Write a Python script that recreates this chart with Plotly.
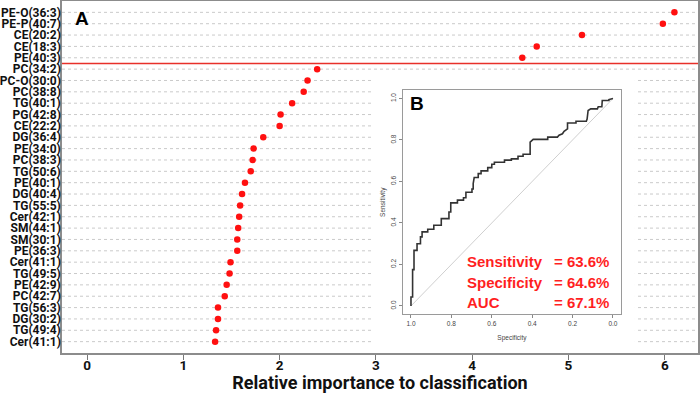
import plotly.graph_objects as go

# ---------------- data ----------------
labels = ["PE-O(36:3)", "PE-P(40:7)", "CE(20:2)", "CE(18:3)", "PE(40:3)", "PC(34:2)",
          "PC-O(30:0)", "PC(38:8)", "TG(40:1)", "PG(42:8)", "CE(22:2)", "DG(36:4)",
          "PE(34:0)", "PC(38:3)", "TG(50:6)", "PE(40:1)", "DG(40:4)", "TG(55:5)",
          "Cer(42:1)", "SM(44:1)", "SM(30:1)", "PE(36:3)", "Cer(41:1)", "TG(49:5)",
          "PE(42:9)", "PC(42:7)", "TG(56:3)", "DG(30:2)", "TG(49:4)", "Cer(41:1)"]
importance = [6.10, 5.98, 5.14, 4.67, 4.52, 2.39, 2.29, 2.25, 2.13, 2.01, 2.00, 1.83,
              1.73, 1.72, 1.70, 1.64, 1.61, 1.59, 1.58, 1.57, 1.56, 1.56, 1.49, 1.48,
              1.45, 1.43, 1.36, 1.36, 1.34, 1.33]
n_selected = 5
x_ticks = [0, 1, 2, 3, 4, 5, 6]

# ROC curve vertices (specificity, sensitivity)
roc_spec = [1.0, 1.0, 0.992, 0.992, 0.985, 0.985, 0.97, 0.97, 0.953, 0.953, 0.945, 0.945,
            0.917, 0.917, 0.887, 0.887, 0.85, 0.85, 0.812, 0.812, 0.803, 0.803, 0.77, 0.77,
            0.74, 0.74, 0.728, 0.728, 0.698, 0.698, 0.692, 0.692, 0.687, 0.667, 0.667,
            0.653, 0.653, 0.62, 0.62, 0.60, 0.60, 0.587, 0.587, 0.537, 0.537, 0.503, 0.503,
            0.47, 0.47, 0.445, 0.445, 0.41, 0.41, 0.395, 0.323, 0.323, 0.275, 0.267, 0.25,
            0.242, 0.225, 0.225, 0.183, 0.183, 0.132, 0.128, 0.123, 0.11, 0.077, 0.073,
            0.055, 0.053, 0.02, 0.02, 0.0]
roc_sens = [0.0, 0.043, 0.043, 0.175, 0.175, 0.268, 0.268, 0.30, 0.30, 0.333, 0.333, 0.357,
            0.357, 0.37, 0.37, 0.389, 0.389, 0.421, 0.421, 0.453, 0.453, 0.497, 0.497, 0.51,
            0.51, 0.522, 0.522, 0.548, 0.548, 0.564, 0.564, 0.59, 0.619, 0.619, 0.638,
            0.638, 0.651, 0.651, 0.667, 0.667, 0.683, 0.683, 0.693, 0.693, 0.703, 0.703, 0.709,
            0.709, 0.722, 0.722, 0.731, 0.731, 0.79, 0.803, 0.803, 0.814, 0.814, 0.823, 0.83,
            0.842, 0.854, 0.882, 0.882, 0.89, 0.89, 0.901, 0.942, 0.95, 0.95, 0.96,
            0.96, 0.99, 0.99, 0.995, 1.0]
roc_ticks = [1.0, 0.8, 0.6, 0.4, 0.2, 0.0]
metrics = ["Sensitivity", "Specificity", "AUC"]
metric_values = [63.6, 64.6, 67.1]

# ---------------- figure ----------------
n = len(labels)
ypos = [n - i for i in range(n)]
BOLDF = "Roboto, Liberation Sans, sans-serif"
REG = "Liberation Sans, Arial, sans-serif"

fig = go.Figure()

fig.add_trace(go.Scatter(x=importance, y=ypos, mode="markers",
                         marker=dict(color="#ff1010", size=6.5, line=dict(width=0)),
                         xaxis="x", yaxis="y", showlegend=False, hoverinfo="skip"))

# ROC inset
fig.add_trace(go.Scatter(x=[1, 0], y=[0, 1], mode="lines",
                         line=dict(color="#cfcfcf", width=1),
                         xaxis="x2", yaxis="y2", showlegend=False, hoverinfo="skip"))
fig.add_trace(go.Scatter(x=roc_spec, y=roc_sens, mode="lines",
                         line=dict(color="#333333", width=1.6),
                         xaxis="x2", yaxis="y2", showlegend=False, hoverinfo="skip"))

shapes = []
for y in ypos:
    shapes.append(dict(type="line", xref="x domain", yref="y", x0=0, x1=1, y0=y, y1=y,
                       line=dict(color="#cacaca", width=1, dash="dot"), layer="below"))
# white background behind inset
shapes.append(dict(type="rect", xref="x", yref="y", x0=2.97, x1=5.69, y0=0.44, y1=24.5,
                   fillcolor="white", line=dict(width=0), layer="below"))
cut = n - n_selected + 0.5
shapes.append(dict(type="line", xref="x domain", yref="y", x0=0, x1=1, y0=cut, y1=cut,
                   line=dict(color="#e8302a", width=1.5), layer="above"))

annotations = [
    dict(text="<b>A</b>", xref="paper", yref="paper", x=0.0314, y=0.949,
         xanchor="center", yanchor="middle", showarrow=False,
         font=dict(family=REG, size=19, color="black")),
    dict(text="<b>B</b>", xref="x2 domain", yref="y2 domain", x=0.064, y=0.942,
         xanchor="center", yanchor="middle", showarrow=False,
         font=dict(family=REG, size=19, color="black")),
]
rows_y = [0.236, 0.144, 0.0535]
for m, v, yy in zip(metrics, metric_values, rows_y):
    annotations.append(dict(text=f"<b>{m}</b>", xref="x2 domain", yref="y2 domain",
                            x=0.283, y=yy, xanchor="left", yanchor="middle", showarrow=False,
                            font=dict(family=REG, size=15, color="#ff1f1f")))
    annotations.append(dict(text=f"<b>= {v:.1f}%</b>", xref="x2 domain", yref="y2 domain",
                            x=0.683, y=yy, xanchor="left", yanchor="middle", showarrow=False,
                            font=dict(family=REG, size=15, color="#ff1f1f")))

fig.update_layout(
    width=700, height=393,
    margin=dict(l=62, r=2, t=1, b=40, autoexpand=False),
    paper_bgcolor="white", plot_bgcolor="white",
    shapes=shapes, annotations=annotations,
    xaxis=dict(domain=[0, 1], range=[-0.26, 6.345], tickvals=x_ticks,
               ticktext=[f"<b>{t}</b>" for t in x_ticks], automargin=False,
               tickfont=dict(family=BOLDF, size=13.5, color="#111"),
               ticks="outside", ticklen=5, tickcolor="#777", tickwidth=1,
               ticklabelstandoff=-6,
               showline=True, mirror=True, linecolor="#8c8c8c", linewidth=1.5,
               showgrid=False, zeroline=False,
               title=dict(text="<b>Relative importance to classification</b>",
                          font=dict(family=BOLDF, size=18, color="#111"), standoff=0)),
    yaxis=dict(domain=[0, 1], range=[0, n + 1], tickvals=ypos, automargin=False,
               ticktext=[f"<b>{l}</b>" for l in labels],
               tickfont=dict(family=BOLDF, size=12, color="#111"),
               ticks="outside", ticklen=1, tickcolor="rgba(0,0,0,0)",
               ticklabelstandoff=-4,
               showline=True, mirror=True, linecolor="#8c8c8c", linewidth=1.5,
               showgrid=False, zeroline=False),
    xaxis2=dict(domain=[0.536, 0.879], anchor="y2", range=[1.04, -0.04], automargin=False,
                tickvals=roc_ticks, ticktext=[f"{t:.1f}" for t in roc_ticks],
                tickfont=dict(family=REG, size=6.5, color="#444"),
                ticks="outside", ticklen=3, tickcolor="#888",
                showline=True, mirror=True, linecolor="#9a9a9a", linewidth=1,
                showgrid=False, zeroline=False,
                title=dict(text="Specificity", font=dict(family=REG, size=6.5, color="#444"),
                           standoff=9)),
    yaxis2=dict(domain=[0.110, 0.7466], anchor="x2", range=[-0.04, 1.04], automargin=False,
                tickvals=roc_ticks, ticktext=[f"{t:.1f}" for t in roc_ticks],
                tickangle=-90,
                tickfont=dict(family=REG, size=6.5, color="#444"),
                ticks="outside", ticklen=3, tickcolor="#888",
                showline=True, mirror=True, linecolor="#9a9a9a", linewidth=1,
                showgrid=False, zeroline=False,
                title=dict(text="Sensitivity", font=dict(family=REG, size=6.5, color="#444"),
                           standoff=4)),
)

fig.write_html("out.html", config={"displayModeBar": False},
               post_script="document.body.style.margin='0';")
